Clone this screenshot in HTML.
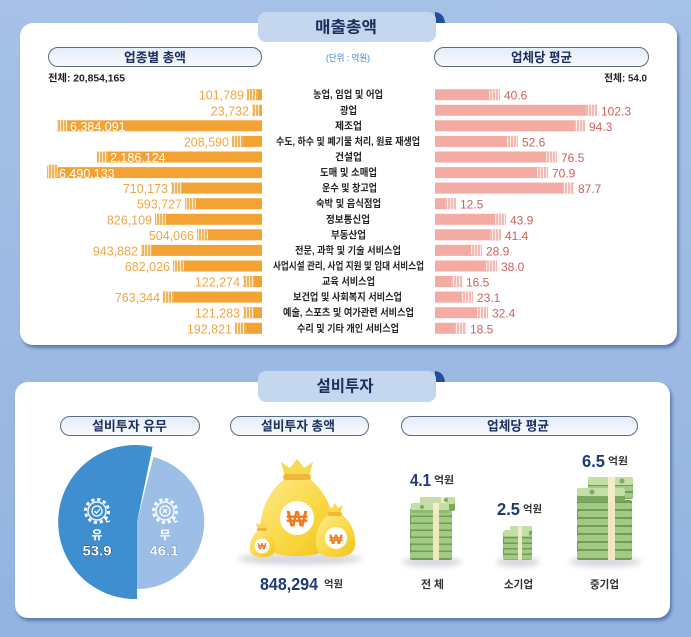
<!DOCTYPE html>
<html><head><meta charset="utf-8">
<style>
html,body{margin:0;padding:0;width:691px;height:637px;overflow:hidden;background:#9ab8e1;}
svg{display:block;}
.kr{font-family:"Liberation Sans","Noto Sans CJK KR",sans-serif;}
.num{font-family:"Liberation Sans",sans-serif;}
</style></head>
<body>
<svg width="691" height="637" viewBox="0 0 691 637" xmlns="http://www.w3.org/2000/svg">
<defs>
  <linearGradient id="bg" x1="0" y1="0" x2="0" y2="1">
    <stop offset="0" stop-color="#a6c1e6"/><stop offset="1" stop-color="#93b3df"/>
  </linearGradient>
  <linearGradient id="pill" x1="0" y1="0" x2="0" y2="1">
    <stop offset="0" stop-color="#e4edf9"/><stop offset="1" stop-color="#f8fafe"/>
  </linearGradient>
  <pattern id="po" patternUnits="userSpaceOnUse" width="3" height="20">
    <rect width="3" height="20" fill="#f5b458"/><rect width="1" height="20" fill="#fff" opacity="0.75"/>
  </pattern>
  <pattern id="pp" patternUnits="userSpaceOnUse" width="3" height="20">
    <rect width="3" height="20" fill="#f6bab2"/><rect width="1" height="20" fill="#fff" opacity="0.75"/>
  </pattern>
  <linearGradient id="bag" x1="0" y1="0" x2="1" y2="1">
    <stop offset="0" stop-color="#fde98e"/><stop offset="0.6" stop-color="#f9d63e"/><stop offset="1" stop-color="#f2c21c"/>
  </linearGradient>
  <filter id="blur1" x="-10%" y="-10%" width="120%" height="120%"><feGaussianBlur stdDeviation="1.5"/></filter>
  <filter id="blur3" x="-30%" y="-100%" width="160%" height="300%"><feGaussianBlur stdDeviation="3"/></filter>
</defs>

<rect width="691" height="637" fill="url(#bg)"/>

<!-- TOP PANEL -->
<rect x="22" y="26" width="657" height="322" rx="13" fill="#5c7cb0" filter="url(#blur1)"/>
<rect x="20" y="23" width="657" height="322" rx="13" fill="#fff"/>
<path d="M435,23 L435,12 Q444,13 445,23 Z" fill="#1f4e9c"/>
<rect x="258" y="12" width="178" height="30" rx="8" fill="#c4d7ef"/>
<text x="346" y="28" class="kr" font-size="16" font-weight="700" fill="#1b2f5c" text-anchor="middle" dominant-baseline="central" textLength="62" lengthAdjust="spacingAndGlyphs">매출총액</text>

<rect x="48.5" y="47.5" width="213" height="19" rx="9.5" fill="url(#pill)" stroke="#5d6b85" stroke-width="1"/>
<text x="155" y="57.5" class="kr" font-size="13" font-weight="700" fill="#1b2f5c" text-anchor="middle" dominant-baseline="central" textLength="62" lengthAdjust="spacingAndGlyphs">업종별 총액</text>
<rect x="434.5" y="47.5" width="214" height="19" rx="9.5" fill="url(#pill)" stroke="#5d6b85" stroke-width="1"/>
<text x="541.5" y="57.5" class="kr" font-size="13" font-weight="700" fill="#1b2f5c" text-anchor="middle" dominant-baseline="central" textLength="61" lengthAdjust="spacingAndGlyphs">업체당 평균</text>
<text x="348" y="58" class="kr" font-size="9" fill="#3c84d2" text-anchor="middle" dominant-baseline="central" textLength="44" lengthAdjust="spacingAndGlyphs">(단위 : 억원)</text>

<text x="48" y="79" class="kr" font-size="10" font-weight="700" fill="#222" dominant-baseline="central" textLength="77" lengthAdjust="spacingAndGlyphs">전체: 20,854,165</text>
<text x="647" y="79" class="kr" font-size="10" font-weight="700" fill="#222" text-anchor="end" dominant-baseline="central" textLength="43" lengthAdjust="spacingAndGlyphs">전체: 54.0</text>

<!-- LEFT BARS -->
<g fill="#f3a234">
<rect x="247" y="89.2" width="15" height="11"/>
<rect x="252" y="104.8" width="10" height="11"/>
<rect x="57" y="120.3" width="205" height="11"/>
<rect x="232" y="135.9" width="30" height="11"/>
<rect x="97" y="151.5" width="165" height="11"/>
<rect x="47" y="167.1" width="215" height="11"/>
<rect x="171" y="182.6" width="91" height="11"/>
<rect x="185" y="198.2" width="77" height="11"/>
<rect x="155" y="213.8" width="107" height="11"/>
<rect x="197" y="229.3" width="65" height="11"/>
<rect x="141" y="244.9" width="121" height="11"/>
<rect x="173" y="260.5" width="89" height="11"/>
<rect x="243" y="276.0" width="19" height="11"/>
<rect x="163" y="291.6" width="99" height="11"/>
<rect x="243" y="307.2" width="19" height="11"/>
<rect x="235" y="322.8" width="27" height="11"/>
</g>
<g fill="url(#po)">
<rect x="247" y="89.2" width="11" height="11" rx="2.5"/>
<rect x="252" y="104.8" width="8" height="11" rx="2.5"/>
<rect x="57" y="120.3" width="11" height="11" rx="2.5"/>
<rect x="232" y="135.9" width="11" height="11" rx="2.5"/>
<rect x="97" y="151.5" width="11" height="11" rx="2.5"/>
<rect x="47" y="164.6" width="11" height="13.5" rx="2.5"/>
<rect x="171" y="182.6" width="11" height="11" rx="2.5"/>
<rect x="185" y="198.2" width="11" height="11" rx="2.5"/>
<rect x="155" y="213.8" width="11" height="11" rx="2.5"/>
<rect x="197" y="229.3" width="11" height="11" rx="2.5"/>
<rect x="141" y="244.9" width="11" height="11" rx="2.5"/>
<rect x="173" y="260.5" width="11" height="11" rx="2.5"/>
<rect x="243" y="276.0" width="11" height="11" rx="2.5"/>
<rect x="163" y="291.6" width="11" height="11" rx="2.5"/>
<rect x="243" y="307.2" width="11" height="11" rx="2.5"/>
<rect x="235" y="322.8" width="11" height="11" rx="2.5"/>
</g>
<g class="num" font-size="12.5" fill="#f0a640" text-anchor="end" dominant-baseline="central">
<text x="244" y="95.7">101,789</text>
<text x="249" y="111.3">23,732</text>
<text x="229" y="142.4">208,590</text>
<text x="168" y="189.1">710,173</text>
<text x="182" y="204.7">593,727</text>
<text x="152" y="220.3">826,109</text>
<text x="194" y="235.8">504,066</text>
<text x="138" y="251.4">943,882</text>
<text x="170" y="267.0">682,026</text>
<text x="240" y="282.5">122,274</text>
<text x="160" y="298.1">763,344</text>
<text x="240" y="313.7">121,283</text>
<text x="232" y="329.3">192,821</text>
</g>
<g class="num" font-size="12.5" fill="#fff" dominant-baseline="central">
<text x="70" y="126.8">6,384,091</text>
<text x="110" y="158.0">2,186,124</text>
<text x="59" y="174.0">6,490,133</text>
</g>

<!-- CENTER LABELS -->
<g class="kr" font-size="10" font-weight="700" fill="#222" text-anchor="middle" dominant-baseline="central">
<text x="348" y="95.7" textLength="70" lengthAdjust="spacingAndGlyphs">농업, 임업 및 어업</text>
<text x="348.5" y="111.3" textLength="17" lengthAdjust="spacingAndGlyphs">광업</text>
<text x="348.5" y="126.8" textLength="27" lengthAdjust="spacingAndGlyphs">제조업</text>
<text x="348" y="142.4" textLength="144" lengthAdjust="spacingAndGlyphs">수도, 하수 및 폐기물 처리, 원료 재생업</text>
<text x="348.5" y="158.0" textLength="27" lengthAdjust="spacingAndGlyphs">건설업</text>
<text x="348.5" y="173.6" textLength="57" lengthAdjust="spacingAndGlyphs">도매 및 소매업</text>
<text x="349.5" y="189.1" textLength="55" lengthAdjust="spacingAndGlyphs">운수 및 창고업</text>
<text x="348.5" y="204.7" textLength="65" lengthAdjust="spacingAndGlyphs">숙박 및 음식점업</text>
<text x="348" y="220.3" textLength="44" lengthAdjust="spacingAndGlyphs">정보통신업</text>
<text x="348.5" y="235.8" textLength="35" lengthAdjust="spacingAndGlyphs">부동산업</text>
<text x="348" y="251.4" textLength="106" lengthAdjust="spacingAndGlyphs">전문, 과학 및 기술 서비스업</text>
<text x="348.5" y="267.0" textLength="151" lengthAdjust="spacingAndGlyphs">사업시설 관리, 사업 지원 및 임대 서비스업</text>
<text x="348.5" y="282.5" textLength="53" lengthAdjust="spacingAndGlyphs">교육 서비스업</text>
<text x="347.5" y="298.1" textLength="109" lengthAdjust="spacingAndGlyphs">보건업 및 사회복지 서비스업</text>
<text x="348.5" y="313.7" textLength="131" lengthAdjust="spacingAndGlyphs">예술, 스포츠 및 여가관련 서비스업</text>
<text x="348" y="329.3" textLength="102" lengthAdjust="spacingAndGlyphs">수리 및 기타 개인 서비스업</text>
</g>

<!-- RIGHT BARS -->
<g fill="#f3aba3">
<rect x="435" y="89.2" width="65" height="11"/>
<rect x="435" y="104.8" width="162" height="11"/>
<rect x="435" y="120.3" width="150" height="11"/>
<rect x="435" y="135.9" width="83" height="11"/>
<rect x="435" y="151.5" width="122" height="11"/>
<rect x="435" y="167.1" width="113" height="11"/>
<rect x="435" y="182.6" width="139" height="11"/>
<rect x="435" y="198.2" width="21" height="11"/>
<rect x="435" y="213.8" width="71" height="11"/>
<rect x="435" y="229.3" width="66" height="11"/>
<rect x="435" y="244.9" width="47" height="11"/>
<rect x="435" y="260.5" width="62" height="11"/>
<rect x="435" y="276.0" width="27" height="11"/>
<rect x="435" y="291.6" width="38" height="11"/>
<rect x="435" y="307.2" width="53" height="11"/>
<rect x="435" y="322.8" width="31" height="11"/>
</g>
<g fill="url(#pp)">
<rect x="489" y="89.2" width="11" height="11" rx="2.5"/>
<rect x="586" y="104.8" width="11" height="11" rx="2.5"/>
<rect x="574" y="120.3" width="11" height="11" rx="2.5"/>
<rect x="507" y="135.9" width="11" height="11" rx="2.5"/>
<rect x="546" y="151.5" width="11" height="11" rx="2.5"/>
<rect x="537" y="167.1" width="11" height="11" rx="2.5"/>
<rect x="563" y="182.6" width="11" height="11" rx="2.5"/>
<rect x="445" y="198.2" width="11" height="11" rx="2.5"/>
<rect x="495" y="213.8" width="11" height="11" rx="2.5"/>
<rect x="490" y="229.3" width="11" height="11" rx="2.5"/>
<rect x="471" y="244.9" width="11" height="11" rx="2.5"/>
<rect x="486" y="260.5" width="11" height="11" rx="2.5"/>
<rect x="451" y="276.0" width="11" height="11" rx="2.5"/>
<rect x="462" y="291.6" width="11" height="11" rx="2.5"/>
<rect x="477" y="307.2" width="11" height="11" rx="2.5"/>
<rect x="455" y="322.8" width="11" height="11" rx="2.5"/>
</g>
<g class="num" font-size="12" fill="#d0605a" dominant-baseline="central">
<text x="504" y="95.7">40.6</text>
<text x="601" y="111.3">102.3</text>
<text x="589" y="126.8">94.3</text>
<text x="522" y="142.4">52.6</text>
<text x="561" y="158.0">76.5</text>
<text x="552" y="173.6">70.9</text>
<text x="578" y="189.1">87.7</text>
<text x="460" y="204.7">12.5</text>
<text x="510" y="220.3">43.9</text>
<text x="505" y="235.8">41.4</text>
<text x="486" y="251.4">28.9</text>
<text x="501" y="267.0">38.0</text>
<text x="466" y="282.5">16.5</text>
<text x="477" y="298.1">23.1</text>
<text x="492" y="313.7">32.4</text>
<text x="470" y="329.3">18.5</text>
</g>

<!-- BOTTOM PANEL -->
<rect x="17" y="385" width="655" height="236" rx="13" fill="#5c7cb0" filter="url(#blur1)"/>
<rect x="15" y="382" width="655" height="236" rx="13" fill="#fff"/>
<path d="M435,382 L435,371 Q444,372 445,382 Z" fill="#1f4e9c"/>
<rect x="258" y="371" width="178" height="31" rx="8" fill="#c4d7ef"/>
<text x="345" y="387" class="kr" font-size="16" font-weight="700" fill="#1b2f5c" text-anchor="middle" dominant-baseline="central" textLength="57" lengthAdjust="spacingAndGlyphs">설비투자</text>

<rect x="60.5" y="416.5" width="139" height="19" rx="9.5" fill="url(#pill)" stroke="#5d6b85" stroke-width="1"/>
<text x="129.5" y="426" class="kr" font-size="13" font-weight="700" fill="#1b2f5c" text-anchor="middle" dominant-baseline="central" textLength="75" lengthAdjust="spacingAndGlyphs">설비투자 유무</text>
<rect x="230.5" y="416.5" width="138" height="19" rx="9.5" fill="url(#pill)" stroke="#5d6b85" stroke-width="1"/>
<text x="298" y="426" class="kr" font-size="13" font-weight="700" fill="#1b2f5c" text-anchor="middle" dominant-baseline="central" textLength="74" lengthAdjust="spacingAndGlyphs">설비투자 총액</text>
<rect x="401.5" y="416.5" width="236" height="19" rx="9.5" fill="url(#pill)" stroke="#5d6b85" stroke-width="1"/>
<text x="518" y="426" class="kr" font-size="13" font-weight="700" fill="#1b2f5c" text-anchor="middle" dominant-baseline="central" textLength="62" lengthAdjust="spacingAndGlyphs">업체당 평균</text>

<!-- PIE -->
<path d="M137,522 L152.5,447 A77,77 0 1,0 137,599 Z" fill="#3f8fd0"/>
<path d="M137,522 L153.5,457 A67,67 0 0,1 137,589 Z" fill="#9dbfe7"/>
<g fill="none" stroke="#fff" stroke-width="1.3">
  <circle cx="97" cy="511" r="9"/>
  <circle cx="97" cy="511" r="11.5" stroke-width="3" stroke-dasharray="3.2 2.8"/>
  <circle cx="97" cy="511" r="5"/>
  <path d="M94.5,511 L96.5,513 L100,509"/>
  <path d="M104,516 l3,6 l3,-1" />
  <circle cx="165" cy="511" r="9"/>
  <circle cx="165" cy="511" r="11.5" stroke-width="3" stroke-dasharray="3.2 2.8"/>
  <circle cx="165" cy="511" r="5"/>
  <path d="M163,509 L167,513 M167,509 L163,513"/>
  <path d="M172,516 l3,6 l3,-1" />
</g>
<text x="97" y="535" class="kr" font-size="12" font-weight="700" fill="#fff" text-anchor="middle" dominant-baseline="central">유</text>
<text x="97" y="551" class="num" font-size="13.5" font-weight="700" fill="#fff" stroke="#1d3f78" stroke-width="0.8" paint-order="stroke" text-anchor="middle" dominant-baseline="central" textLength="29" lengthAdjust="spacingAndGlyphs">53.9</text>
<text x="165" y="535" class="kr" font-size="12" font-weight="700" fill="#fff" text-anchor="middle" dominant-baseline="central">무</text>
<text x="164" y="551" class="num" font-size="13.5" font-weight="700" fill="#fff" stroke="#4d85c6" stroke-width="0.8" paint-order="stroke" text-anchor="middle" dominant-baseline="central" textLength="29" lengthAdjust="spacingAndGlyphs">46.1</text>

<!-- MONEY BAGS -->
<ellipse cx="300" cy="559" rx="62" ry="6" fill="#d6d8de" filter="url(#blur3)"/>
<path d="M287,477 C266,492 259,515 260,535 C261,551 275,556 297,556 C319,556 333,551 334,535 C335,515 328,492 307,477 Z" fill="url(#bag)"/>
<path d="M285,477 L281,462 L290,468 L297,459 L304,468 L313,462 L309,477 Z" fill="#f8d84e"/>
<rect x="283" y="474" width="28" height="6" rx="3" fill="#f0b83a"/>
<circle cx="297" cy="518" r="17" fill="#fff"/>
<text x="297" y="519" class="num" font-size="22" font-weight="700" fill="#f07a1a" text-anchor="middle" dominant-baseline="central">₩</text>
<path d="M329,514 C318,522 315,535 316,545 C317,555 325,557 335,557 C345,557 354,555 355,545 C356,535 352,522 341,514 Z" fill="url(#bag)"/>
<path d="M330,514 L327,505 L332,508 L335,503 L338,508 L343,505 L340,514 Z" fill="#f8d84e"/>
<rect x="328" y="512" width="14" height="4" rx="2" fill="#f0b83a"/>
<circle cx="336" cy="538" r="11" fill="#fff"/>
<text x="336" y="539" class="num" font-size="14" font-weight="700" fill="#f07a1a" text-anchor="middle" dominant-baseline="central">₩</text>
<path d="M258,530 C251,536 249,545 250,550 C251,556 256,557 262,557 C268,557 274,556 275,550 C276,545 273,536 266,530 Z" fill="url(#bag)"/>
<path d="M258,530 L256,523 L260,525 L262,521 L264,525 L268,523 L266,530 Z" fill="#f8d84e"/>
<rect x="257" y="528" width="10" height="3" rx="1.5" fill="#f0b83a"/>
<circle cx="262" cy="546" r="7.5" fill="#fff"/>
<text x="262" y="546.5" class="num" font-size="9" font-weight="700" fill="#f07a1a" text-anchor="middle" dominant-baseline="central">₩</text>
<text x="260" y="584" class="num" font-size="17.5" font-weight="700" fill="#1d3a7a" dominant-baseline="central" textLength="58" lengthAdjust="spacingAndGlyphs">848,294</text>
<text x="324" y="585" class="kr" font-size="10" font-weight="700" fill="#333" dominant-baseline="central" textLength="19" lengthAdjust="spacingAndGlyphs">억원</text>

<!-- MONEY STACKS -->
<g filter="url(#blur3)" fill="#d6d8de">
  <ellipse cx="432" cy="562" rx="30" ry="5"/>
  <ellipse cx="518" cy="562" rx="22" ry="5"/>
  <ellipse cx="605" cy="562" rx="36" ry="5"/>
</g>
<g>
  <rect x="410" y="508" width="42" height="52" rx="2" fill="#6f9d55"/>
  <g fill="#a3ca85">
    <rect x="410" y="510" width="42" height="5.5" rx="1.5"/>
    <rect x="411" y="517" width="41" height="5.5" rx="1.5"/>
    <rect x="410" y="524" width="42" height="5.5" rx="1.5"/>
    <rect x="411" y="531" width="41" height="5.5" rx="1.5"/>
    <rect x="410" y="538" width="42" height="5.5" rx="1.5"/>
    <rect x="411" y="545" width="41" height="5.5" rx="1.5"/>
    <rect x="410" y="552" width="42" height="6" rx="1.5"/>
  </g>
  <rect x="433" y="508" width="6" height="52" fill="#efe8c2"/>
  <rect x="420" y="497" width="35" height="14" rx="2" fill="#79a85e"/>
  <rect x="420" y="497" width="35" height="7" rx="2" fill="#c3dfa7"/>
  <rect x="441" y="497" width="5" height="14" fill="#efe8c2"/>
  <rect x="411" y="503" width="38" height="10" rx="2" fill="#c3dfa7"/>
  <rect x="411" y="510" width="38" height="3" fill="#8cbb6c"/>
  <rect x="433" y="503" width="6" height="10" fill="#f3eccb"/>
  <circle cx="422" cy="507" r="2" fill="#7eaa63"/>
  <circle cx="446" cy="500" r="2" fill="#7eaa63"/>
</g>
<g>
  <rect x="503" y="532" width="29" height="28" rx="2" fill="#6f9d55"/>
  <g fill="#a3ca85">
    <rect x="503" y="533" width="29" height="4" rx="1"/>
    <rect x="504" y="538.5" width="28" height="4" rx="1"/>
    <rect x="503" y="544" width="29" height="4" rx="1"/>
    <rect x="504" y="549.5" width="28" height="4" rx="1"/>
    <rect x="503" y="555" width="29" height="4.5" rx="1"/>
  </g>
  <rect x="518" y="532" width="4" height="28" fill="#efe8c2"/>
  <rect x="510" y="526" width="22" height="9" rx="1.5" fill="#79a85e"/>
  <rect x="510" y="526" width="22" height="5" rx="1.5" fill="#c3dfa7"/>
  <rect x="504" y="530" width="25" height="6" rx="1.5" fill="#c3dfa7"/>
  <rect x="518" y="526" width="4" height="10" fill="#f3eccb"/>
</g>
<g>
  <rect x="577" y="500" width="55" height="60" rx="2" fill="#6f9d55"/>
  <g fill="#a3ca85">
    <rect x="577" y="503" width="55" height="6" rx="1.5"/>
    <rect x="578" y="511" width="54" height="6" rx="1.5"/>
    <rect x="577" y="519" width="55" height="6" rx="1.5"/>
    <rect x="578" y="527" width="54" height="6" rx="1.5"/>
    <rect x="577" y="535" width="55" height="6" rx="1.5"/>
    <rect x="578" y="543" width="54" height="6" rx="1.5"/>
    <rect x="577" y="551" width="55" height="7" rx="1.5"/>
  </g>
  <rect x="608" y="500" width="7" height="60" fill="#efe8c2"/>
  <rect x="588" y="477" width="45" height="22" rx="2" fill="#6f9d55"/>
  <rect x="588" y="486" width="45" height="5" rx="1.5" fill="#a3ca85"/>
  <rect x="588" y="493" width="45" height="5" rx="1.5" fill="#a3ca85"/>
  <rect x="588" y="477" width="45" height="8" rx="2" fill="#c3dfa7"/>
  <rect x="577" y="488" width="48" height="14" rx="2" fill="#79a85e"/>
  <rect x="577" y="488" width="48" height="8" rx="2" fill="#c3dfa7"/>
  <rect x="608" y="477" width="7" height="25" fill="#f3eccb"/>
  <circle cx="592" cy="492" r="2.5" fill="#7eaa63"/>
  <circle cx="622" cy="481" r="2.5" fill="#7eaa63"/>
</g>

<g class="num" font-weight="700" fill="#1d3a7a" dominant-baseline="central">
  <text x="410" y="480" font-size="17.5" textLength="21" lengthAdjust="spacingAndGlyphs">4.1</text>
  <text x="497" y="509" font-size="17.5" textLength="23" lengthAdjust="spacingAndGlyphs">2.5</text>
  <text x="582" y="461" font-size="17.5" textLength="23" lengthAdjust="spacingAndGlyphs">6.5</text>
</g>
<g class="kr" font-size="10" font-weight="700" fill="#333" dominant-baseline="central">
  <text x="434" y="481" textLength="20" lengthAdjust="spacingAndGlyphs">억원</text>
  <text x="523" y="510" textLength="19" lengthAdjust="spacingAndGlyphs">억원</text>
  <text x="608" y="462" textLength="20" lengthAdjust="spacingAndGlyphs">억원</text>
</g>
<g class="kr" font-size="11" font-weight="700" fill="#333" text-anchor="middle" dominant-baseline="central">
  <text x="432.5" y="585" textLength="23" lengthAdjust="spacing">전 체</text>
  <text x="518.5" y="585" textLength="29" lengthAdjust="spacingAndGlyphs">소기업</text>
  <text x="604.5" y="585" textLength="29" lengthAdjust="spacingAndGlyphs">중기업</text>
</g>
</svg>
</body></html>
